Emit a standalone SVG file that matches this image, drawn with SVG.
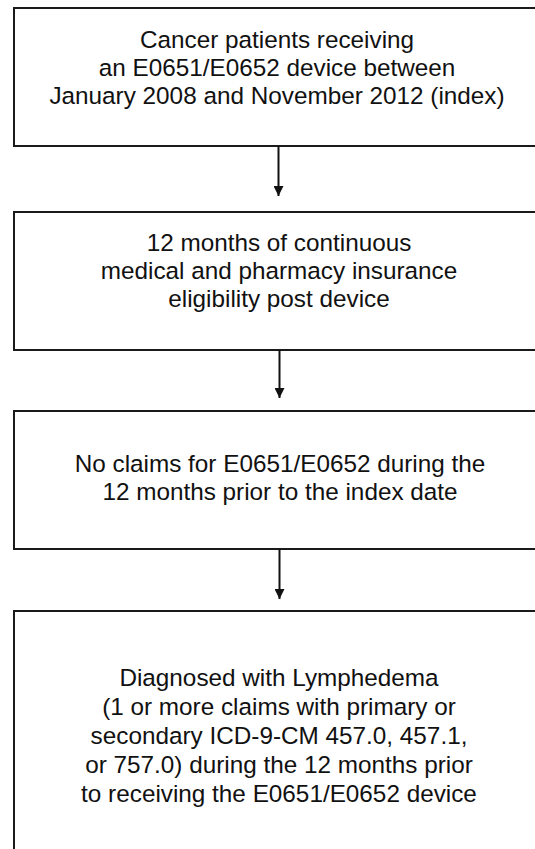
<svg xmlns="http://www.w3.org/2000/svg" width="535" height="849" viewBox="0 0 535 849">
<style>
.box{fill:#fff;stroke:#1a1a1a;stroke-width:2}
.t{font-family:"Liberation Sans",Arial,sans-serif;font-size:24.3px;fill:#111;text-anchor:middle}
.c{stroke:#111;stroke-width:2;fill:none}
</style>
<defs>
<marker id="ah" viewBox="0 0 10 10" refX="10" refY="5" markerWidth="10" markerHeight="10" markerUnits="userSpaceOnUse" orient="auto">
<path d="M0,0 L10,5 L0,10 Z" fill="#111"/>
</marker>
</defs>
<rect width="535" height="849" fill="#fff"/>
<g id="n1">
<rect class="box" x="14" y="8" width="530" height="138"/>
<text class="t"><tspan x="277" y="48">Cancer patients receiving</tspan><tspan x="277" y="76">an E0651/E0652 device between</tspan><tspan x="277" y="104">January 2008 and November 2012 (index)</tspan></text>
</g>
<g id="n2">
<rect class="box" x="14" y="212" width="530" height="138"/>
<text class="t"><tspan x="279" y="251">12 months of continuous</tspan><tspan x="279" y="279">medical and pharmacy insurance</tspan><tspan x="279" y="307">eligibility post device</tspan></text>
</g>
<g id="n3">
<rect class="box" x="14" y="411" width="530" height="138"/>
<text class="t"><tspan x="280" y="472">No claims for E0651/E0652 during the</tspan><tspan x="280" y="500">12 months prior to the index date</tspan></text>
</g>
<g id="n4">
<rect class="box" x="14" y="611" width="530" height="260"/>
<text class="t"><tspan x="279" y="686">Diagnosed with Lymphedema</tspan><tspan x="279" y="715">(1 or more claims with primary or</tspan><tspan x="279" y="744">secondary ICD-9-CM 457.0, 457.1,</tspan><tspan x="279" y="773">or 757.0) during the 12 months prior</tspan><tspan x="279" y="802">to receiving the E0651/E0652 device</tspan></text>
</g>
<g id="connectors">
<line class="c" x1="278.5" y1="146" x2="278.5" y2="196" marker-end="url(#ah)"/>
<line class="c" x1="279.5" y1="350" x2="279.5" y2="398" marker-end="url(#ah)"/>
<line class="c" x1="279.5" y1="549" x2="279.5" y2="599" marker-end="url(#ah)"/>
</g>
</svg>
